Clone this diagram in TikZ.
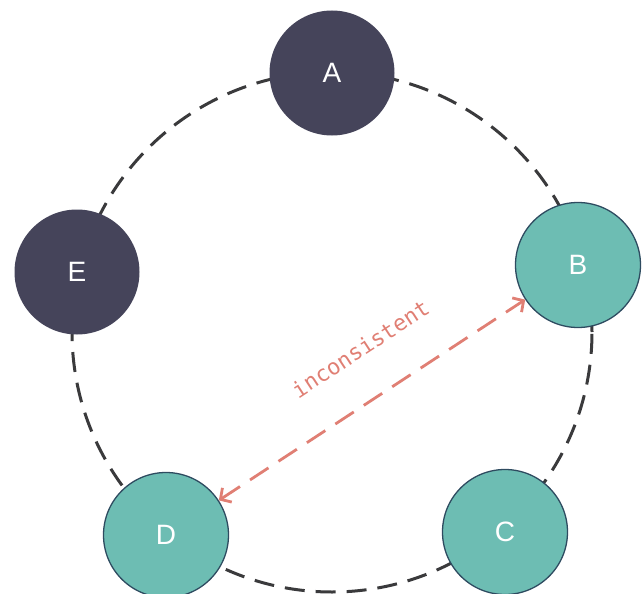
\documentclass[tikz,border=0pt]{standalone}
\usepackage{fontspec}
\setmainfont{Liberation Sans}
\newfontfamily\codefont{DejaVu Sans Mono}
\usetikzlibrary{arrows.meta}
\definecolor{ringgray}{HTML}{3A3A3C}
\definecolor{darknode}{HTML}{45445A}
\definecolor{tealnode}{HTML}{6DBDB3}
\definecolor{tealedge}{HTML}{2E4B60}
\definecolor{warnred}{HTML}{E07F74}
\tikzset{
  x=1pt, y=-1pt,
  ring/.style={draw=ringgray, line width=3pt, dash pattern=on 20pt off 11pt},
  peer/.style={circle, minimum size=125pt, inner sep=0pt, text=white,
    font=\fontsize{28}{28}\selectfont},
  stale/.style={peer, fill=darknode},
  fresh/.style={peer, fill=tealnode, draw=tealedge, line width=1.3pt},
  conflict/.style={draw=warnred, line width=2.8pt, dash pattern=on 22pt off 12pt,
    {Straight Barb[length=8pt,width=17pt,line width=2.8pt]}-{Straight Barb[length=8pt,width=17pt,line width=2.8pt]}},
  conflictlabel/.style={text=warnred, font=\codefont\fontsize{22}{22}\selectfont}
}
\begin{document}
\begin{tikzpicture}
  \useasboundingbox (0,0) rectangle (643,594);
  % replica ring
  \draw[ring] (332,332) circle[radius=260pt];
  % replicas
  \node[stale] (A) at (332,73) {A};
  \node[fresh] (B) at (578,265) {B};
  \node[fresh] (C) at (505,532) {C};
  \node[fresh] (D) at (166,535) {D};
  \node[stale] (E) at (77,272) {E};
  % divergence between B and D
  \draw[conflict] (D) -- (B)
    node[conflictlabel, pos=0.55, above=36pt, sloped] (lbl) {inconsistent};
\end{tikzpicture}
\end{document}
